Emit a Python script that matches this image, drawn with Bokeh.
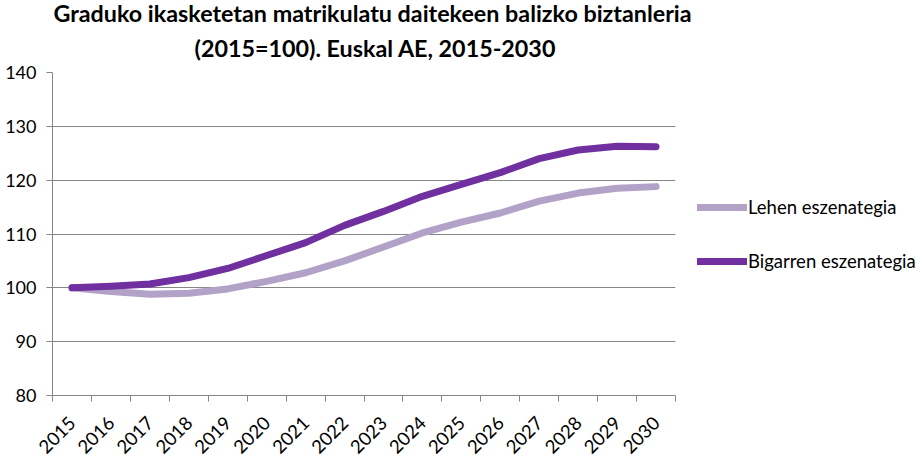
import math
from bokeh.plotting import figure
from bokeh.models import (ColumnDataSource, FixedTicker, Range1d, Title, Legend, LegendItem)
from bokeh.embed import file_html
from bokeh.resources import INLINE

years = ["2015", "2016", "2017", "2018", "2019", "2020", "2021", "2022",
         "2023", "2024", "2025", "2026", "2027", "2028", "2029", "2030"]
lehen = [100.0, 99.3, 98.8, 99.0, 99.8, 101.2, 102.8, 105.0,
         107.6, 110.2, 112.2, 113.9, 116.1, 117.6, 118.5, 118.8]
bigarren = [100.0, 100.3, 100.7, 101.9, 103.6, 106.0, 108.4, 111.6,
            114.2, 117.0, 119.2, 121.4, 124.0, 125.6, 126.3, 126.2]
series_names = ["Lehen eszenategia", "Bigarren eszenategia"]
y_ticks = [80, 90, 100, 110, 120, 130, 140]

FONT = "Lato"
GRID = "#868686"

xpos = [i + 0.5 for i in range(len(years))]
src = ColumnDataSource(dict(x=xpos, lehen=lehen, bigarren=bigarren))

p = figure(frame_width=623, frame_height=323, output_backend="svg", toolbar_location=None,
           x_range=Range1d(0, len(years)), y_range=Range1d(80, 140),
           min_border_left=52, min_border_right=0, min_border_top=72,
           min_border_bottom=62)
p.outline_line_color = None
p.background_fill_color = "white"
p.border_fill_color = "white"

# titles (first added = closest to plot)
t2 = Title(text="(2015=100). Euskal AE, 2015-2030", align="left", offset=142,
           text_font=FONT, text_font_size="23.3px", text_font_style="bold",
           text_color="black", standoff=21)
t1 = Title(text="Graduko ikasketetan matrikulatu daitekeen balizko biztanleria",
           align="left", offset=1, text_font=FONT, text_font_size="23.3px",
           text_font_style="bold", text_color="black", standoff=-10)
p.add_layout(t2, "above")
p.add_layout(t1, "above")

l1 = p.line("x", "lehen", source=src, line_color="#B3A2C7", line_width=7,
            line_cap="round", line_join="round")
l2 = p.line("x", "bigarren", source=src, line_color="#7030A0", line_width=7,
            line_cap="round", line_join="round")

# x axis: labels at centers, ticks at boundaries
p.xaxis.ticker = FixedTicker(ticks=xpos, minor_ticks=list(range(len(years) + 1)))
p.xaxis.major_label_overrides = {x: y for x, y in zip(xpos, years)}
p.xaxis.major_tick_out = 0
p.xaxis.major_tick_in = 0
p.xaxis.minor_tick_out = 6
p.xaxis.minor_tick_in = 0
p.xaxis.minor_tick_line_color = GRID
p.xaxis.axis_line_color = GRID
p.xaxis.major_label_orientation = math.pi / 4
p.xaxis.major_label_text_font = FONT
p.xaxis.major_label_text_font_size = "18.5px"
p.xaxis.major_label_text_color = "black"
p.xaxis.major_label_standoff = 18

p.yaxis.ticker = FixedTicker(ticks=y_ticks)
p.yaxis.major_tick_out = 6
p.yaxis.major_tick_in = 0
p.yaxis.minor_tick_line_color = None
p.yaxis.major_tick_line_color = GRID
p.yaxis.axis_line_color = GRID
p.yaxis.major_label_text_font = FONT
p.yaxis.major_label_text_font_size = "18px"
p.yaxis.major_label_text_color = "black"
p.yaxis.major_label_standoff = 10

p.xgrid.grid_line_color = None
p.ygrid.grid_line_color = GRID
p.ygrid.grid_line_width = 1

legend = Legend(items=[LegendItem(label=series_names[0], renderers=[l1]),
                       LegendItem(label=series_names[1], renderers=[l2])],
                location=(22, 123), orientation="vertical",
                glyph_width=50, glyph_height=20, label_height=20,
                label_standoff=1, spacing=32, padding=0, margin=0,
                border_line_color=None, background_fill_alpha=0,
                label_text_font=FONT, label_text_font_size="18.5px",
                label_text_color="black")
p.add_layout(legend, "right")

open("out.html", "w").write(file_html(p, INLINE))
